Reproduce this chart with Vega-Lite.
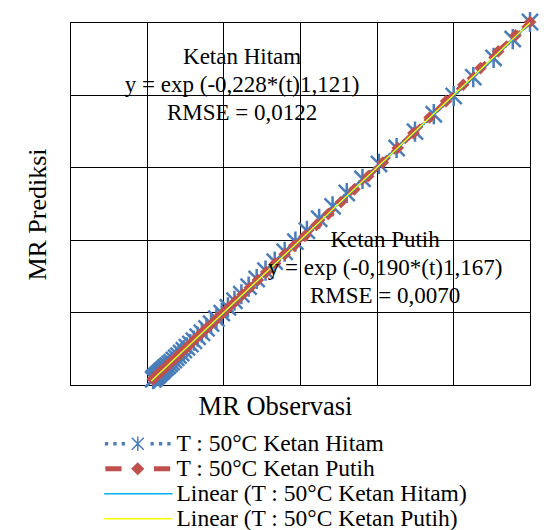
{
  "$schema": "https://vega.github.io/schema/vega-lite/v6.json",
  "width": 460,
  "height": 363,
  "autosize": {"type": "none"},
  "padding": {"left": 70, "top": 22, "right": 14, "bottom": 145},
  "background": "white",
  "config": {
    "font": "Liberation Serif, Times New Roman, serif",
    "view": {"stroke": "black", "strokeWidth": 1}
  },
  "datasets": {
    "mr": [
      {"s": "T : 50°C Ketan Hitam", "o": 1.000, "p": 1.000},
      {"s": "T : 50°C Ketan Hitam", "o": 0.955, "p": 0.953},
      {"s": "T : 50°C Ketan Hitam", "o": 0.905, "p": 0.901},
      {"s": "T : 50°C Ketan Hitam", "o": 0.852, "p": 0.848},
      {"s": "T : 50°C Ketan Hitam", "o": 0.801, "p": 0.796},
      {"s": "T : 50°C Ketan Hitam", "o": 0.749, "p": 0.746},
      {"s": "T : 50°C Ketan Hitam", "o": 0.700, "p": 0.698},
      {"s": "T : 50°C Ketan Hitam", "o": 0.652, "p": 0.653},
      {"s": "T : 50°C Ketan Hitam", "o": 0.606, "p": 0.609},
      {"s": "T : 50°C Ketan Hitam", "o": 0.563, "p": 0.568},
      {"s": "T : 50°C Ketan Hitam", "o": 0.522, "p": 0.529},
      {"s": "T : 50°C Ketan Hitam", "o": 0.485, "p": 0.492},
      {"s": "T : 50°C Ketan Hitam", "o": 0.450, "p": 0.458},
      {"s": "T : 50°C Ketan Hitam", "o": 0.418, "p": 0.425},
      {"s": "T : 50°C Ketan Hitam", "o": 0.388, "p": 0.395},
      {"s": "T : 50°C Ketan Hitam", "o": 0.360, "p": 0.367},
      {"s": "T : 50°C Ketan Hitam", "o": 0.334, "p": 0.340},
      {"s": "T : 50°C Ketan Hitam", "o": 0.310, "p": 0.315},
      {"s": "T : 50°C Ketan Hitam", "o": 0.287, "p": 0.292},
      {"s": "T : 50°C Ketan Hitam", "o": 0.266, "p": 0.271},
      {"s": "T : 50°C Ketan Hitam", "o": 0.247, "p": 0.250},
      {"s": "T : 50°C Ketan Hitam", "o": 0.229, "p": 0.232},
      {"s": "T : 50°C Ketan Hitam", "o": 0.212, "p": 0.214},
      {"s": "T : 50°C Ketan Hitam", "o": 0.196, "p": 0.198},
      {"s": "T : 50°C Ketan Hitam", "o": 0.182, "p": 0.183},
      {"s": "T : 50°C Ketan Hitam", "o": 0.168, "p": 0.169},
      {"s": "T : 50°C Ketan Hitam", "o": 0.156, "p": 0.156},
      {"s": "T : 50°C Ketan Hitam", "o": 0.144, "p": 0.144},
      {"s": "T : 50°C Ketan Hitam", "o": 0.133, "p": 0.133},
      {"s": "T : 50°C Ketan Hitam", "o": 0.123, "p": 0.122},
      {"s": "T : 50°C Ketan Hitam", "o": 0.114, "p": 0.113},
      {"s": "T : 50°C Ketan Hitam", "o": 0.105, "p": 0.104},
      {"s": "T : 50°C Ketan Hitam", "o": 0.097, "p": 0.096},
      {"s": "T : 50°C Ketan Hitam", "o": 0.090, "p": 0.088},
      {"s": "T : 50°C Ketan Hitam", "o": 0.083, "p": 0.081},
      {"s": "T : 50°C Ketan Hitam", "o": 0.077, "p": 0.075},
      {"s": "T : 50°C Ketan Hitam", "o": 0.071, "p": 0.069},
      {"s": "T : 50°C Ketan Hitam", "o": 0.065, "p": 0.063},
      {"s": "T : 50°C Ketan Hitam", "o": 0.060, "p": 0.058},
      {"s": "T : 50°C Ketan Hitam", "o": 0.055, "p": 0.053},
      {"s": "T : 50°C Ketan Hitam", "o": 0.050, "p": 0.049},
      {"s": "T : 50°C Ketan Hitam", "o": 0.046, "p": 0.045},
      {"s": "T : 50°C Ketan Hitam", "o": 0.042, "p": 0.041},
      {"s": "T : 50°C Ketan Hitam", "o": 0.039, "p": 0.038},
      {"s": "T : 50°C Ketan Hitam", "o": 0.036, "p": 0.035},
      {"s": "T : 50°C Ketan Hitam", "o": 0.033, "p": 0.032},
      {"s": "T : 50°C Ketan Hitam", "o": 0.030, "p": 0.029},
      {"s": "T : 50°C Ketan Hitam", "o": 0.028, "p": 0.027},
      {"s": "T : 50°C Ketan Hitam", "o": 0.026, "p": 0.025},
      {"s": "T : 50°C Ketan Hitam", "o": 0.023, "p": 0.022},
      {"s": "T : 50°C Ketan Hitam", "o": 0.021, "p": 0.020},
      {"s": "T : 50°C Ketan Hitam", "o": 0.019, "p": 0.018},
      {"s": "T : 50°C Ketan Hitam", "o": 0.017, "p": 0.016},
      {"s": "T : 50°C Ketan Putih", "o": 1.000, "p": 1.000},
      {"s": "T : 50°C Ketan Putih", "o": 0.962, "p": 0.963},
      {"s": "T : 50°C Ketan Putih", "o": 0.917, "p": 0.919},
      {"s": "T : 50°C Ketan Putih", "o": 0.871, "p": 0.873},
      {"s": "T : 50°C Ketan Putih", "o": 0.826, "p": 0.827},
      {"s": "T : 50°C Ketan Putih", "o": 0.781, "p": 0.782},
      {"s": "T : 50°C Ketan Putih", "o": 0.738, "p": 0.737},
      {"s": "T : 50°C Ketan Putih", "o": 0.696, "p": 0.694},
      {"s": "T : 50°C Ketan Putih", "o": 0.655, "p": 0.653},
      {"s": "T : 50°C Ketan Putih", "o": 0.616, "p": 0.613},
      {"s": "T : 50°C Ketan Putih", "o": 0.578, "p": 0.575},
      {"s": "T : 50°C Ketan Putih", "o": 0.542, "p": 0.539},
      {"s": "T : 50°C Ketan Putih", "o": 0.507, "p": 0.504},
      {"s": "T : 50°C Ketan Putih", "o": 0.474, "p": 0.471},
      {"s": "T : 50°C Ketan Putih", "o": 0.443, "p": 0.441},
      {"s": "T : 50°C Ketan Putih", "o": 0.413, "p": 0.411},
      {"s": "T : 50°C Ketan Putih", "o": 0.385, "p": 0.384},
      {"s": "T : 50°C Ketan Putih", "o": 0.360, "p": 0.360},
      {"s": "T : 50°C Ketan Putih", "o": 0.335, "p": 0.335},
      {"s": "T : 50°C Ketan Putih", "o": 0.312, "p": 0.311},
      {"s": "T : 50°C Ketan Putih", "o": 0.290, "p": 0.289},
      {"s": "T : 50°C Ketan Putih", "o": 0.269, "p": 0.268},
      {"s": "T : 50°C Ketan Putih", "o": 0.250, "p": 0.249},
      {"s": "T : 50°C Ketan Putih", "o": 0.232, "p": 0.231},
      {"s": "T : 50°C Ketan Putih", "o": 0.215, "p": 0.215},
      {"s": "T : 50°C Ketan Putih", "o": 0.200, "p": 0.199},
      {"s": "T : 50°C Ketan Putih", "o": 0.185, "p": 0.185},
      {"s": "T : 50°C Ketan Putih", "o": 0.172, "p": 0.171},
      {"s": "T : 50°C Ketan Putih", "o": 0.159, "p": 0.159},
      {"s": "T : 50°C Ketan Putih", "o": 0.147, "p": 0.147},
      {"s": "T : 50°C Ketan Putih", "o": 0.136, "p": 0.136},
      {"s": "T : 50°C Ketan Putih", "o": 0.126, "p": 0.126},
      {"s": "T : 50°C Ketan Putih", "o": 0.117, "p": 0.116},
      {"s": "T : 50°C Ketan Putih", "o": 0.108, "p": 0.107},
      {"s": "T : 50°C Ketan Putih", "o": 0.099, "p": 0.098},
      {"s": "T : 50°C Ketan Putih", "o": 0.091, "p": 0.090},
      {"s": "T : 50°C Ketan Putih", "o": 0.084, "p": 0.083},
      {"s": "T : 50°C Ketan Putih", "o": 0.077, "p": 0.076},
      {"s": "T : 50°C Ketan Putih", "o": 0.071, "p": 0.070},
      {"s": "T : 50°C Ketan Putih", "o": 0.066, "p": 0.066},
      {"s": "T : 50°C Ketan Putih", "o": 0.061, "p": 0.061},
      {"s": "T : 50°C Ketan Putih", "o": 0.056, "p": 0.056},
      {"s": "T : 50°C Ketan Putih", "o": 0.052, "p": 0.051},
      {"s": "T : 50°C Ketan Putih", "o": 0.048, "p": 0.047},
      {"s": "T : 50°C Ketan Putih", "o": 0.044, "p": 0.043},
      {"s": "T : 50°C Ketan Putih", "o": 0.040, "p": 0.040},
      {"s": "T : 50°C Ketan Putih", "o": 0.037, "p": 0.037},
      {"s": "T : 50°C Ketan Putih", "o": 0.034, "p": 0.034},
      {"s": "T : 50°C Ketan Putih", "o": 0.031, "p": 0.032},
      {"s": "T : 50°C Ketan Putih", "o": 0.029, "p": 0.029},
      {"s": "T : 50°C Ketan Putih", "o": 0.027, "p": 0.027},
      {"s": "T : 50°C Ketan Putih", "o": 0.025, "p": 0.025},
      {"s": "T : 50°C Ketan Putih", "o": 0.023, "p": 0.023},
      {"s": "T : 50°C Ketan Putih", "o": 0.021, "p": 0.021},
      {"s": "T : 50°C Ketan Putih", "o": 0.019, "p": 0.019},
      {"s": "T : 50°C Ketan Putih", "o": 0.018, "p": 0.018},
      {"s": "T : 50°C Ketan Putih", "o": 0.016, "p": 0.016},
      {"s": "Linear (T : 50°C Ketan Hitam)", "o": 0.012, "p": 0.010},
      {"s": "Linear (T : 50°C Ketan Hitam)", "o": 1.000, "p": 0.996},
      {"s": "Linear (T : 50°C Ketan Putih)", "o": 0.012, "p": 0.011},
      {"s": "Linear (T : 50°C Ketan Putih)", "o": 1.000, "p": 0.998}
    ],
    "notes": [
      {"lines": ["Ketan Hitam", "y = exp (-0,228*(t)1,121)", "RMSE = 0,0122"], "o": 0.249, "p": 0.904},
      {"lines": ["Ketan Putih", "y = exp (-0,190*(t)1,167)", "RMSE = 0,0070"], "o": 0.622, "p": 0.399}
    ]
  },
  "encoding": {
    "x": {
      "field": "o", "type": "quantitative",
      "scale": {"domain": [-0.2, 1], "nice": false, "zero": false},
      "axis": {
        "title": "MR Observasi", "titleFont": "Liberation Serif, Times New Roman, serif", "titleFontSize": 26.5,
        "titleFontWeight": "normal", "titleColor": "black", "titlePadding": 8,
        "titleX": 205, "titleAlign": "center",
        "values": [-0.2, 0, 0.2, 0.4, 0.6, 0.8, 1],
        "labels": false, "ticks": false,
        "domainColor": "black", "domainWidth": 1,
        "grid": true, "gridColor": "black", "gridWidth": 1, "gridOpacity": 1
      }
    },
    "y": {
      "field": "p", "type": "quantitative",
      "scale": {"domain": [0, 1], "nice": false, "zero": false},
      "axis": {
        "title": "MR Prediksi", "titleFont": "Liberation Serif, Times New Roman, serif", "titleFontSize": 26,
        "titleFontWeight": "normal", "titleColor": "black", "titlePadding": 20,
        "titleY": 192, "titleAlign": "center",
        "values": [0, 0.2, 0.4, 0.6, 0.8, 1],
        "labels": false, "ticks": false,
        "domainColor": "black", "domainWidth": 1,
        "grid": true, "gridColor": "black", "gridWidth": 1, "gridOpacity": 1
      }
    }
  },
  "layer": [
    {
      "data": {"name": "mr"},
      "transform": [{"filter": "datum.s === 'T : 50°C Ketan Hitam'"}],
      "mark": {"type": "line", "strokeWidth": 3, "strokeDash": [0.1, 5], "strokeCap": "round"},
      "encoding": {
        "color": {
          "field": "s", "type": "nominal",
          "scale": {
            "domain": ["T : 50°C Ketan Hitam", "T : 50°C Ketan Putih", "Linear (T : 50°C Ketan Hitam)", "Linear (T : 50°C Ketan Putih)"],
            "range": ["#4a7ebb", "#c0504d", "#00b0f0", "#ffff00"]
          },
          "legend": {
            "title": null,
            "orient": "none",
            "legendX": 56,
            "legendY": 410,
            "direction": "vertical",
            "padding": 0,
            "symbolSize": 144,
            "labelFont": "Liberation Serif, Times New Roman, serif",
            "labelFontSize": 23.5,
            "labelColor": "black",
            "labelLimit": 500,
            "labelOffset": 27,
            "rowPadding": 0,
            "encode": {
              "symbols": {
                "update": {
                  "shape": {"signal": "datum.value === 'T : 50°C Ketan Hitam' ? 'M-5.35,-0.15h0.3v0.3h-0.3zM-3.95,-0.15h0.3v0.3h-0.3zM-2.55,-0.15h0.3v0.3h-0.3zM2.25,-0.15h0.3v0.3h-0.3zM3.65,-0.15h0.3v0.3h-0.3zM5.05,-0.15h0.3v0.3h-0.3zM-1,-1L1,1M-1,1L1,-1M0,-1.2L0,1.2' : datum.value === 'T : 50°C Ketan Putih' ? 'M-5.4,-0.42H-2.7V0.42H-5.4ZM2.7,-0.42H5.4V0.42H2.7ZM0,-1.1L1.1,0L0,1.1L-1.1,0Z' : 'M-5.6,-0.11H5.8V0.11H-5.6Z'"},
                  "fill": {"signal": "datum.value === 'T : 50°C Ketan Hitam' ? '#4a7ebb' : datum.value === 'T : 50°C Ketan Putih' ? '#c0504d' : datum.value === 'Linear (T : 50°C Ketan Hitam)' ? '#00b0f0' : '#ffff00'"},
                  "stroke": {"signal": "datum.value === 'T : 50°C Ketan Hitam' ? '#4a7ebb' : datum.value === 'T : 50°C Ketan Putih' ? '#c0504d' : datum.value === 'Linear (T : 50°C Ketan Hitam)' ? '#00b0f0' : '#ffff00'"},
                  "strokeWidth": {"signal": "datum.value === 'T : 50°C Ketan Hitam' ? 1.5 : 0"},
                  "strokeDash": {"value": []},
                  "opacity": {"value": 1}
                }
              }
            }
          }
        }
      }
    },
    {
      "data": {"name": "mr"},
      "transform": [{"filter": "datum.s === 'T : 50°C Ketan Hitam'"}],
      "mark": {"type": "point", "shape": "M-1,-1L1,1M-1,1L1,-1M0,-1.25L0,1.25", "size": 260, "filled": false, "strokeWidth": 2.5, "opacity": 1},
      "encoding": {"color": {"field": "s", "type": "nominal"}}
    },
    {
      "data": {"name": "mr"},
      "transform": [{"filter": "datum.s === 'T : 50°C Ketan Putih'"}],
      "mark": {"type": "line", "strokeWidth": 5, "strokeDash": [10, 5]},
      "encoding": {"color": {"field": "s", "type": "nominal"}}
    },
    {
      "data": {"name": "mr"},
      "transform": [{"filter": "datum.s === 'T : 50°C Ketan Putih'"}],
      "mark": {"type": "point", "shape": "diamond", "size": 160, "filled": true, "opacity": 1},
      "encoding": {"color": {"field": "s", "type": "nominal"}}
    },
    {
      "data": {"name": "mr"},
      "transform": [{"filter": "datum.s === 'Linear (T : 50°C Ketan Hitam)' || datum.s === 'Linear (T : 50°C Ketan Putih)'"}],
      "mark": {"type": "line", "strokeWidth": 1.2},
      "encoding": {"color": {"field": "s", "type": "nominal"}}
    },
    {
      "data": {"name": "notes"},
      "mark": {"type": "text", "font": "Liberation Serif, Times New Roman, serif", "fontSize": 23, "align": "center", "baseline": "middle", "lineHeight": 28, "color": "black"},
      "encoding": {
        "text": {"field": "lines"}
      }
    }
  ]
}
